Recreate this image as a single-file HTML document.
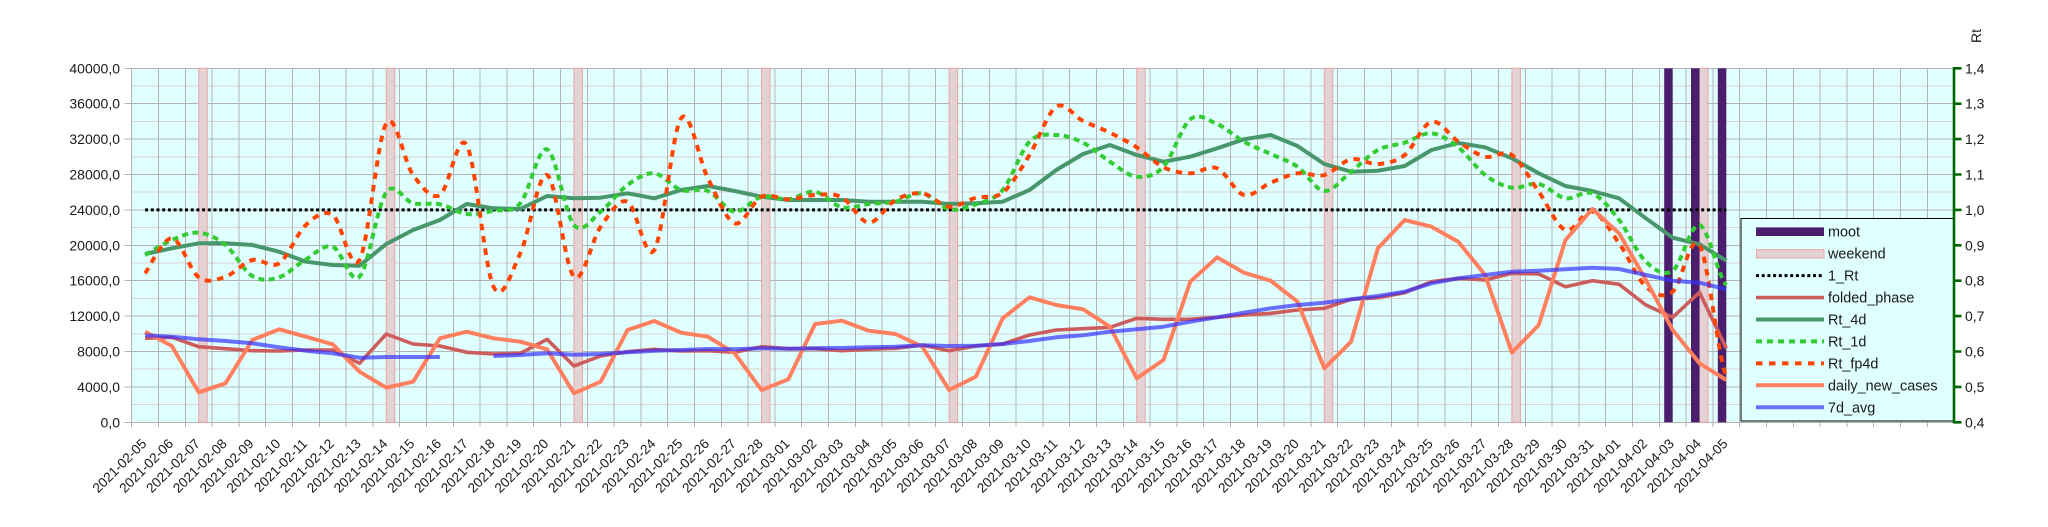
<!DOCTYPE html>
<html><head><meta charset="utf-8"><style>
html,body{margin:0;padding:0;background:#fff;}
svg{display:block;}
text{font-family:"Liberation Sans",Arial,sans-serif;fill:#1a1a1a;}
</style></head><body>
<svg width="2048" height="527" viewBox="0 0 2048 527" xmlns="http://www.w3.org/2000/svg">
<rect x="0" y="0" width="2048" height="527" fill="#fff"/>
<rect x="131.7" y="68.3" width="1822.4" height="354" fill="#e0ffff"/>
<!-- minor horizontal grid -->
<path d="M131.7 86H1954M131.7 121.4H1954M131.7 156.8H1954M131.7 192.2H1954M131.7 227.6H1954M131.7 263H1954M131.7 298.4H1954M131.7 333.8H1954M131.7 369.2H1954M131.7 404.6H1954" stroke="#dcd2d3" stroke-width="1" fill="none" shape-rendering="crispEdges"/>
<!-- major horizontal grid -->
<path d="M124.5 68.3H1954M124.5 103.7H1954M124.5 139.1H1954M124.5 174.5H1954M124.5 209.9H1954M124.5 245.3H1954M124.5 280.7H1954M124.5 316.1H1954M124.5 351.5H1954M124.5 386.9H1954M124.5 422.3H1954" stroke="#b3b3b3" stroke-width="1" fill="none" shape-rendering="crispEdges"/>
<!-- vertical grid + ticks -->
<path d="M131.7 68.3V427M158.5 68.3V427M185.3 68.3V427M212.1 68.3V427M238.9 68.3V427M265.7 68.3V427M292.5 68.3V427M319.3 68.3V427M346.1 68.3V427M372.9 68.3V427M399.7 68.3V427M426.5 68.3V427M453.3 68.3V427M480.1 68.3V427M506.9 68.3V427M533.7 68.3V427M560.5 68.3V427M587.3 68.3V427M614.1 68.3V427M640.9 68.3V427M667.7 68.3V427M694.5 68.3V427M721.3 68.3V427M748.1 68.3V427M774.9 68.3V427M801.7 68.3V427M828.5 68.3V427M855.3 68.3V427M882.1 68.3V427M908.9 68.3V427M935.7 68.3V427M962.5 68.3V427M989.3 68.3V427M1016.1 68.3V427M1042.9 68.3V427M1069.7 68.3V427M1096.5 68.3V427M1123.3 68.3V427M1150.1 68.3V427M1176.9 68.3V427M1203.7 68.3V427M1230.5 68.3V427M1257.3 68.3V427M1284.1 68.3V427M1310.9 68.3V427M1337.7 68.3V427M1364.5 68.3V427M1391.3 68.3V427M1418.1 68.3V427M1444.9 68.3V427M1471.7 68.3V427M1498.5 68.3V427M1525.3 68.3V427M1552.1 68.3V427M1578.9 68.3V427M1605.7 68.3V427M1632.5 68.3V427M1659.3 68.3V427M1686.1 68.3V427M1712.9 68.3V427M1739.7 68.3V427M1766.5 68.3V427M1793.3 68.3V427M1820.1 68.3V427M1846.9 68.3V427M1873.7 68.3V427M1900.5 68.3V427M1927.3 68.3V427" stroke="#b3b3b3" stroke-width="1" fill="none" shape-rendering="crispEdges"/>
<!-- weekend bars -->
<g fill="#e3d2d4" stroke="#f0a2a2" stroke-width="1">
<rect x="198.7" y="68.3" width="8.5" height="354"/>
<rect x="386.3" y="68.3" width="8.5" height="354"/>
<rect x="573.9" y="68.3" width="8.5" height="354"/>
<rect x="761.5" y="68.3" width="8.5" height="354"/>
<rect x="949.1" y="68.3" width="8.5" height="354"/>
<rect x="1136.7" y="68.3" width="8.5" height="354"/>
<rect x="1324.3" y="68.3" width="8.5" height="354"/>
<rect x="1511.9" y="68.3" width="8.5" height="354"/>
<rect x="1699.5" y="68.3" width="8.5" height="354"/>
</g>
<!-- moot bars -->
<g fill="#4a1e6c">
<rect x="1664.2" y="68.3" width="8.5" height="354"/>
<rect x="1691" y="68.3" width="8.5" height="354"/>
<rect x="1717.8" y="68.3" width="8.5" height="354"/>
</g>
<!-- 1_Rt -->
<path d="M145.1 209.9H1726.3" stroke="#000" stroke-width="3" stroke-dasharray="3,2.7" fill="none"/>
<!-- folded_phase -->
<path d="M145.1,338.3 L171.9,337.3 L198.7,346.7 L225.5,348.7 L252.3,350.7 L279.1,351 L305.9,350 L332.7,350 L359.5,363.3 L386.3,334 L413.1,344 L439.9,346 L466.7,352.3 L493.5,354 L520.3,353.3 L547.1,339.3 L573.9,366 L600.7,356 L627.5,351.7 L654.3,349.3 L681.1,351 L707.9,350.7 L734.7,352.3 L761.5,346.7 L788.3,348.7 L815.1,348.7 L841.9,350.7 L868.7,349.3 L895.5,348.3 L922.3,345 L949.1,350.7 L975.9,346 L1002.7,344 L1029.5,335 L1056.3,330 L1083.1,328.7 L1109.9,327.3 L1136.7,318.3 L1163.5,319.3 L1190.3,319.3 L1217.1,317.3 L1243.9,315 L1270.7,313.3 L1297.5,310 L1324.3,308.3 L1351.1,299.3 L1377.9,297.7 L1404.7,292.7 L1431.5,281.7 L1458.3,278.3 L1485.1,280 L1511.9,273.3 L1538.7,274 L1565.5,286.7 L1592.3,280.7 L1619.1,284.3 L1645.9,305 L1672.7,317.3 L1699.5,292.3 L1726.3,348.3" stroke="#cd5c5c" stroke-width="3.6" fill="none" stroke-linejoin="round"/>
<!-- Rt_4d -->
<path d="M145.1,254 L171.9,248.3 L198.7,243.3 L225.5,243.3 L252.3,245 L279.1,251.7 L305.9,261.7 L332.7,265 L359.5,265.7 L386.3,244 L413.1,230 L439.9,220 L466.7,204 L493.5,208.3 L520.3,209 L547.1,196 L573.9,198.3 L600.7,197.7 L627.5,193.3 L654.3,198.3 L681.1,190 L707.9,186 L734.7,191 L761.5,196.7 L788.3,200 L815.1,200 L841.9,200 L868.7,201.7 L895.5,201.7 L922.3,201.7 L949.1,204 L975.9,203.3 L1002.7,201.7 L1029.5,190 L1056.3,170 L1083.1,154 L1109.9,145 L1136.7,155 L1163.5,161.7 L1190.3,156.7 L1217.1,148.3 L1243.9,139.3 L1270.7,135 L1297.5,146 L1324.3,164 L1351.1,171.7 L1377.9,170.7 L1404.7,166 L1431.5,150 L1458.3,143 L1485.1,147.3 L1511.9,158.3 L1538.7,173.3 L1565.5,186 L1592.3,191 L1619.1,198.3 L1645.9,218.3 L1672.7,237.7 L1699.5,244.3 L1726.3,260.7" stroke="#47966c" stroke-width="4" fill="none" stroke-linejoin="round"/>
<!-- Rt_1d -->
<path d="M145.1,255 C149.6,252.5 163,243.7 171.9,240 S189.8,231.9 198.7,232.7 S216.6,237.8 225.5,245 S243.4,270.6 252.3,276 S270.2,280.1 279.1,277.3 S297,264.4 305.9,259.3 S323.8,243.8 332.7,246.7 S350.6,285.8 359.5,276.7 S377.4,204.5 386.3,192.3 S404.2,201.3 413.1,203.3 S431,202.5 439.9,204.3 S457.8,212.9 466.7,214 S484.6,212.5 493.5,210.7 S511.4,213.5 520.3,203.3 S538.2,145.7 547.1,149.3 S565,214.6 573.9,225 S591.8,218.4 600.7,211.7 S618.6,191.4 627.5,185 S645.4,172.5 654.3,173.3 S672.2,187.1 681.1,190 S699,187.4 707.9,191 S725.8,210.8 734.7,211.7 S752.6,198.8 761.5,196.7 S779.4,200.1 788.3,199.3 S806.2,190.4 815.1,191.7 S833,205.3 841.9,207.3 S859.8,204.9 868.7,204 S886.6,203.5 895.5,201.7 S913.4,192 922.3,193.3 S940.2,207.5 949.1,209.3 S967,207.5 975.9,204.3 S993.8,200.4 1002.7,190 S1020.6,150.9 1029.5,141.7 S1047.4,134.8 1056.3,135 S1074.2,138.3 1083.1,142.7 S1101,156 1109.9,161.7 S1127.8,175.9 1136.7,176.7 S1154.6,176.3 1163.5,166.7 S1181.4,126.4 1190.3,119.3 S1208.2,120.3 1217.1,124 S1235,136.7 1243.9,141.7 S1261.8,149.8 1270.7,154 S1288.6,160.5 1297.5,166.7 S1315.4,190.2 1324.3,191 S1342.2,178.5 1351.1,171.7 S1369,154.8 1377.9,150 S1395.8,145.5 1404.7,142.7 S1422.6,132.5 1431.5,133.3 S1449.4,140.4 1458.3,147.3 S1476.2,168.3 1485.1,175 S1503,186.2 1511.9,187.7 S1529.8,182.2 1538.7,184 S1556.6,196.8 1565.5,198.3 S1583.4,189.7 1592.3,193.3 S1610.2,208.6 1619.1,220 S1637,253.3 1645.9,261.7 S1663.8,276.8 1672.7,270.7 S1690.6,222.6 1699.5,225 S1717.4,275 1726.3,285" stroke="#33cc33" stroke-width="4" stroke-dasharray="6,4.5" fill="none"/>
<!-- Rt_fp4d -->
<path d="M145.1,273.3 C149.6,267.5 163,237.6 171.9,238.3 S189.8,270.9 198.7,277.3 S216.6,279.6 225.5,276.7 S243.4,262.2 252.3,260 S270.2,269.1 279.1,263.3 S297,233.1 305.9,225 S323.8,209.2 332.7,215 S350.6,275.3 359.5,260 S377.4,137.5 386.3,123.3 S404.2,163.1 413.1,175 S431,200 439.9,195 S457.8,129.7 466.7,145 S484.6,268.6 493.5,286.7 S511.4,271.9 520.3,253.3 S538.2,171.1 547.1,175 S565,268.1 573.9,276.7 S591.8,239.2 600.7,226.7 S618.6,197.8 627.5,201.7 S645.4,263.9 654.3,250 S672.2,130.3 681.1,118.3 S699,160.8 707.9,178.3 S725.8,220.2 734.7,223.3 S752.6,200.7 761.5,196.7 S779.4,199.6 788.3,199.3 S806.2,195.3 815.1,195 S833,192.7 841.9,197.3 S859.8,222.2 868.7,222.7 S886.6,204.9 895.5,200 S913.4,192.2 922.3,193.3 S940.2,206 949.1,206.7 S967,200 975.9,197.7 S993.8,199.8 1002.7,192.7 S1020.6,169.3 1029.5,155 S1047.4,112.4 1056.3,106.7 S1074.2,116.7 1083.1,121 S1101,128.3 1109.9,132.7 S1127.8,141.5 1136.7,147.3 S1154.6,163 1163.5,167.3 S1181.4,173.1 1190.3,173.3 S1208.2,164.7 1217.1,168.3 S1235,192.6 1243.9,195 S1261.8,186.3 1270.7,182.7 S1288.6,174.6 1297.5,173.3 S1315.4,177.3 1324.3,175 S1342.2,161.1 1351.1,159.3 S1369,164.7 1377.9,164 S1395.8,162.1 1404.7,155 S1422.6,123.9 1431.5,121.7 S1449.4,135.9 1458.3,141.7 S1476.2,154.5 1485.1,156.7 S1503,149.2 1511.9,155 S1529.8,179.2 1538.7,191.7 S1556.6,226.7 1565.5,230 S1583.4,209.5 1592.3,211.7 S1610.2,230.8 1619.1,243.3 S1637,278.6 1645.9,286.7 S1663.8,298.7 1672.7,291.7 S1690.6,230.8 1699.5,245 S1717.4,354.8 1726.3,376.7" stroke="#ff4500" stroke-width="4" stroke-dasharray="6.5,6" fill="none"/>
<!-- daily_new_cases -->
<path d="M145.1,331.7 L171.9,346 L198.7,392.3 L225.5,383.3 L252.3,340 L279.1,329.3 L305.9,336.7 L332.7,344.3 L359.5,371.7 L386.3,387.7 L413.1,381.7 L439.9,338.3 L466.7,331.7 L493.5,338.3 L520.3,341.7 L547.1,349.3 L573.9,393.3 L600.7,381.7 L627.5,330 L654.3,321 L681.1,332.7 L707.9,336.7 L734.7,353.3 L761.5,390 L788.3,379.3 L815.1,324 L841.9,320.7 L868.7,330.7 L895.5,334 L922.3,346.7 L949.1,390 L975.9,376.7 L1002.7,318.3 L1029.5,297.3 L1056.3,305 L1083.1,309.3 L1109.9,326.7 L1136.7,378.3 L1163.5,360 L1190.3,281.7 L1217.1,257.3 L1243.9,272.7 L1270.7,280.7 L1297.5,301.7 L1324.3,368.3 L1351.1,341.7 L1377.9,248.3 L1404.7,220 L1431.5,226.7 L1458.3,241.7 L1485.1,275 L1511.9,352.7 L1538.7,325 L1565.5,240 L1592.3,209 L1619.1,233.3 L1645.9,280 L1672.7,330 L1699.5,363.3 L1726.3,380" stroke="#ff7f5f" stroke-width="4" fill="none" stroke-linejoin="round"/>
<!-- 7d_avg -->
<g stroke="#3333ff" stroke-opacity="0.7" stroke-width="4" fill="none" stroke-linejoin="round">
<path d="M145.1,335.3 L171.9,336.7 L198.7,339.3 L225.5,341 L252.3,343.3 L279.1,347.3 L305.9,350.7 L332.7,353.3 L359.5,357.7 L386.3,357 L413.1,357 L439.9,357"/>
<path d="M493.5,356 L520.3,355 L547.1,353.3 L573.9,354.7 L600.7,354 L627.5,352.3 L654.3,350.7 L681.1,350 L707.9,349 L734.7,349.3 L761.5,348.3 L788.3,348.7 L815.1,348.3 L841.9,348 L868.7,347.3 L895.5,346.7 L922.3,345.3 L949.1,346 L975.9,345.7 L1002.7,344 L1029.5,341 L1056.3,337.3 L1083.1,335.3 L1109.9,331.7 L1136.7,329.3 L1163.5,326.7 L1190.3,321.7 L1217.1,317.3 L1243.9,312.7 L1270.7,308.3 L1297.5,305 L1324.3,302.7 L1351.1,299.3 L1377.9,296 L1404.7,291.7 L1431.5,283.3 L1458.3,278.3 L1485.1,275 L1511.9,271.7 L1538.7,270.7 L1565.5,269.3 L1592.3,267.7 L1619.1,269 L1645.9,275 L1672.7,280.7 L1699.5,282.7 L1726.3,289.3"/>
</g>
<!-- legend -->
<rect x="1741" y="218.5" width="213" height="202.5" fill="#e0ffff" stroke="#000" stroke-width="1"/>
<rect x="1756" y="227.4" width="68" height="8.6" fill="#4a1e6c"/>
<rect x="1756.5" y="249.7" width="67.5" height="8.3" fill="#e3d2d4" stroke="#f0a2a2" stroke-width="1"/>
<path d="M1756 275.6H1824" stroke="#000" stroke-width="3" stroke-dasharray="3,2.7"/>
<path d="M1756 297.6H1824" stroke="#cd5c5c" stroke-width="3.6"/>
<path d="M1756 319.5H1824" stroke="#47966c" stroke-width="4"/>
<path d="M1756 341.4H1824" stroke="#33cc33" stroke-width="4" stroke-dasharray="6,5"/>
<path d="M1756 363.4H1824" stroke="#ff4500" stroke-width="4" stroke-dasharray="6.5,6.5"/>
<path d="M1756 385.3H1824" stroke="#ff7f5f" stroke-width="4"/>
<path d="M1756 407.3H1824" stroke="#3333ff" stroke-opacity="0.7" stroke-width="4"/>
<g font-size="14.4">
<text x="1828" y="236.7">moot</text>
<text x="1828" y="258.7">weekend</text>
<text x="1828" y="280.6">1_Rt</text>
<text x="1828" y="302.6">folded_phase</text>
<text x="1828" y="324.5">Rt_4d</text>
<text x="1828" y="346.4">Rt_1d</text>
<text x="1828" y="368.4">Rt_fp4d</text>
<text x="1828" y="390.3">daily_new_cases</text>
<text x="1828" y="412.3">7d_avg</text>
</g>
<!-- right axis -->
<path d="M1954 67V423.5" stroke="#006600" stroke-width="2.6"/>
<path d="M1954 68.3H1961.5M1954 103.7H1961.5M1954 139.1H1961.5M1954 174.5H1961.5M1954 209.9H1961.5M1954 245.3H1961.5M1954 280.7H1961.5M1954 316.1H1961.5M1954 351.5H1961.5M1954 386.9H1961.5M1954 422.3H1961.5" stroke="#006600" stroke-width="2.6"/>
<g font-size="14">
<text x="1965" y="73.3">1,4</text>
<text x="1965" y="108.7">1,3</text>
<text x="1965" y="144.1">1,2</text>
<text x="1965" y="179.5">1,1</text>
<text x="1965" y="214.9">1,0</text>
<text x="1965" y="250.3">0,9</text>
<text x="1965" y="285.7">0,8</text>
<text x="1965" y="321.1">0,7</text>
<text x="1965" y="356.5">0,6</text>
<text x="1965" y="391.9">0,5</text>
<text x="1965" y="427.3">0,4</text>
</g>
<text font-size="14" text-anchor="middle" transform="translate(1981,36) rotate(-90)">Rt</text>
<!-- left axis labels -->
<g font-size="14" text-anchor="end">
<text x="120" y="73.3">40000,0</text>
<text x="120" y="108.7">36000,0</text>
<text x="120" y="144.1">32000,0</text>
<text x="120" y="179.5">28000,0</text>
<text x="120" y="214.9">24000,0</text>
<text x="120" y="250.3">20000,0</text>
<text x="120" y="285.7">16000,0</text>
<text x="120" y="321.1">12000,0</text>
<text x="120" y="356.5">8000,0</text>
<text x="120" y="391.9">4000,0</text>
<text x="120" y="427.3">0,0</text>
</g>
<!-- x labels -->
<g font-size="13.6" text-anchor="end">
<text transform="translate(147.3,444.5) rotate(-45)">2021-02-05</text>
<text transform="translate(174.1,444.5) rotate(-45)">2021-02-06</text>
<text transform="translate(200.9,444.5) rotate(-45)">2021-02-07</text>
<text transform="translate(227.7,444.5) rotate(-45)">2021-02-08</text>
<text transform="translate(254.5,444.5) rotate(-45)">2021-02-09</text>
<text transform="translate(281.3,444.5) rotate(-45)">2021-02-10</text>
<text transform="translate(308.1,444.5) rotate(-45)">2021-02-11</text>
<text transform="translate(334.9,444.5) rotate(-45)">2021-02-12</text>
<text transform="translate(361.7,444.5) rotate(-45)">2021-02-13</text>
<text transform="translate(388.5,444.5) rotate(-45)">2021-02-14</text>
<text transform="translate(415.3,444.5) rotate(-45)">2021-02-15</text>
<text transform="translate(442.1,444.5) rotate(-45)">2021-02-16</text>
<text transform="translate(468.9,444.5) rotate(-45)">2021-02-17</text>
<text transform="translate(495.7,444.5) rotate(-45)">2021-02-18</text>
<text transform="translate(522.5,444.5) rotate(-45)">2021-02-19</text>
<text transform="translate(549.3,444.5) rotate(-45)">2021-02-20</text>
<text transform="translate(576.1,444.5) rotate(-45)">2021-02-21</text>
<text transform="translate(602.9,444.5) rotate(-45)">2021-02-22</text>
<text transform="translate(629.7,444.5) rotate(-45)">2021-02-23</text>
<text transform="translate(656.5,444.5) rotate(-45)">2021-02-24</text>
<text transform="translate(683.3,444.5) rotate(-45)">2021-02-25</text>
<text transform="translate(710.1,444.5) rotate(-45)">2021-02-26</text>
<text transform="translate(736.9,444.5) rotate(-45)">2021-02-27</text>
<text transform="translate(763.7,444.5) rotate(-45)">2021-02-28</text>
<text transform="translate(790.5,444.5) rotate(-45)">2021-03-01</text>
<text transform="translate(817.3,444.5) rotate(-45)">2021-03-02</text>
<text transform="translate(844.1,444.5) rotate(-45)">2021-03-03</text>
<text transform="translate(870.9,444.5) rotate(-45)">2021-03-04</text>
<text transform="translate(897.7,444.5) rotate(-45)">2021-03-05</text>
<text transform="translate(924.5,444.5) rotate(-45)">2021-03-06</text>
<text transform="translate(951.3,444.5) rotate(-45)">2021-03-07</text>
<text transform="translate(978.1,444.5) rotate(-45)">2021-03-08</text>
<text transform="translate(1004.9,444.5) rotate(-45)">2021-03-09</text>
<text transform="translate(1031.7,444.5) rotate(-45)">2021-03-10</text>
<text transform="translate(1058.5,444.5) rotate(-45)">2021-03-11</text>
<text transform="translate(1085.3,444.5) rotate(-45)">2021-03-12</text>
<text transform="translate(1112.1,444.5) rotate(-45)">2021-03-13</text>
<text transform="translate(1138.9,444.5) rotate(-45)">2021-03-14</text>
<text transform="translate(1165.7,444.5) rotate(-45)">2021-03-15</text>
<text transform="translate(1192.5,444.5) rotate(-45)">2021-03-16</text>
<text transform="translate(1219.3,444.5) rotate(-45)">2021-03-17</text>
<text transform="translate(1246.1,444.5) rotate(-45)">2021-03-18</text>
<text transform="translate(1272.9,444.5) rotate(-45)">2021-03-19</text>
<text transform="translate(1299.7,444.5) rotate(-45)">2021-03-20</text>
<text transform="translate(1326.5,444.5) rotate(-45)">2021-03-21</text>
<text transform="translate(1353.3,444.5) rotate(-45)">2021-03-22</text>
<text transform="translate(1380.1,444.5) rotate(-45)">2021-03-23</text>
<text transform="translate(1406.9,444.5) rotate(-45)">2021-03-24</text>
<text transform="translate(1433.7,444.5) rotate(-45)">2021-03-25</text>
<text transform="translate(1460.5,444.5) rotate(-45)">2021-03-26</text>
<text transform="translate(1487.3,444.5) rotate(-45)">2021-03-27</text>
<text transform="translate(1514.1,444.5) rotate(-45)">2021-03-28</text>
<text transform="translate(1540.9,444.5) rotate(-45)">2021-03-29</text>
<text transform="translate(1567.7,444.5) rotate(-45)">2021-03-30</text>
<text transform="translate(1594.5,444.5) rotate(-45)">2021-03-31</text>
<text transform="translate(1621.3,444.5) rotate(-45)">2021-04-01</text>
<text transform="translate(1648.1,444.5) rotate(-45)">2021-04-02</text>
<text transform="translate(1674.9,444.5) rotate(-45)">2021-04-03</text>
<text transform="translate(1701.7,444.5) rotate(-45)">2021-04-04</text>
<text transform="translate(1728.5,444.5) rotate(-45)">2021-04-05</text>
</g>
</svg>
</body></html>
